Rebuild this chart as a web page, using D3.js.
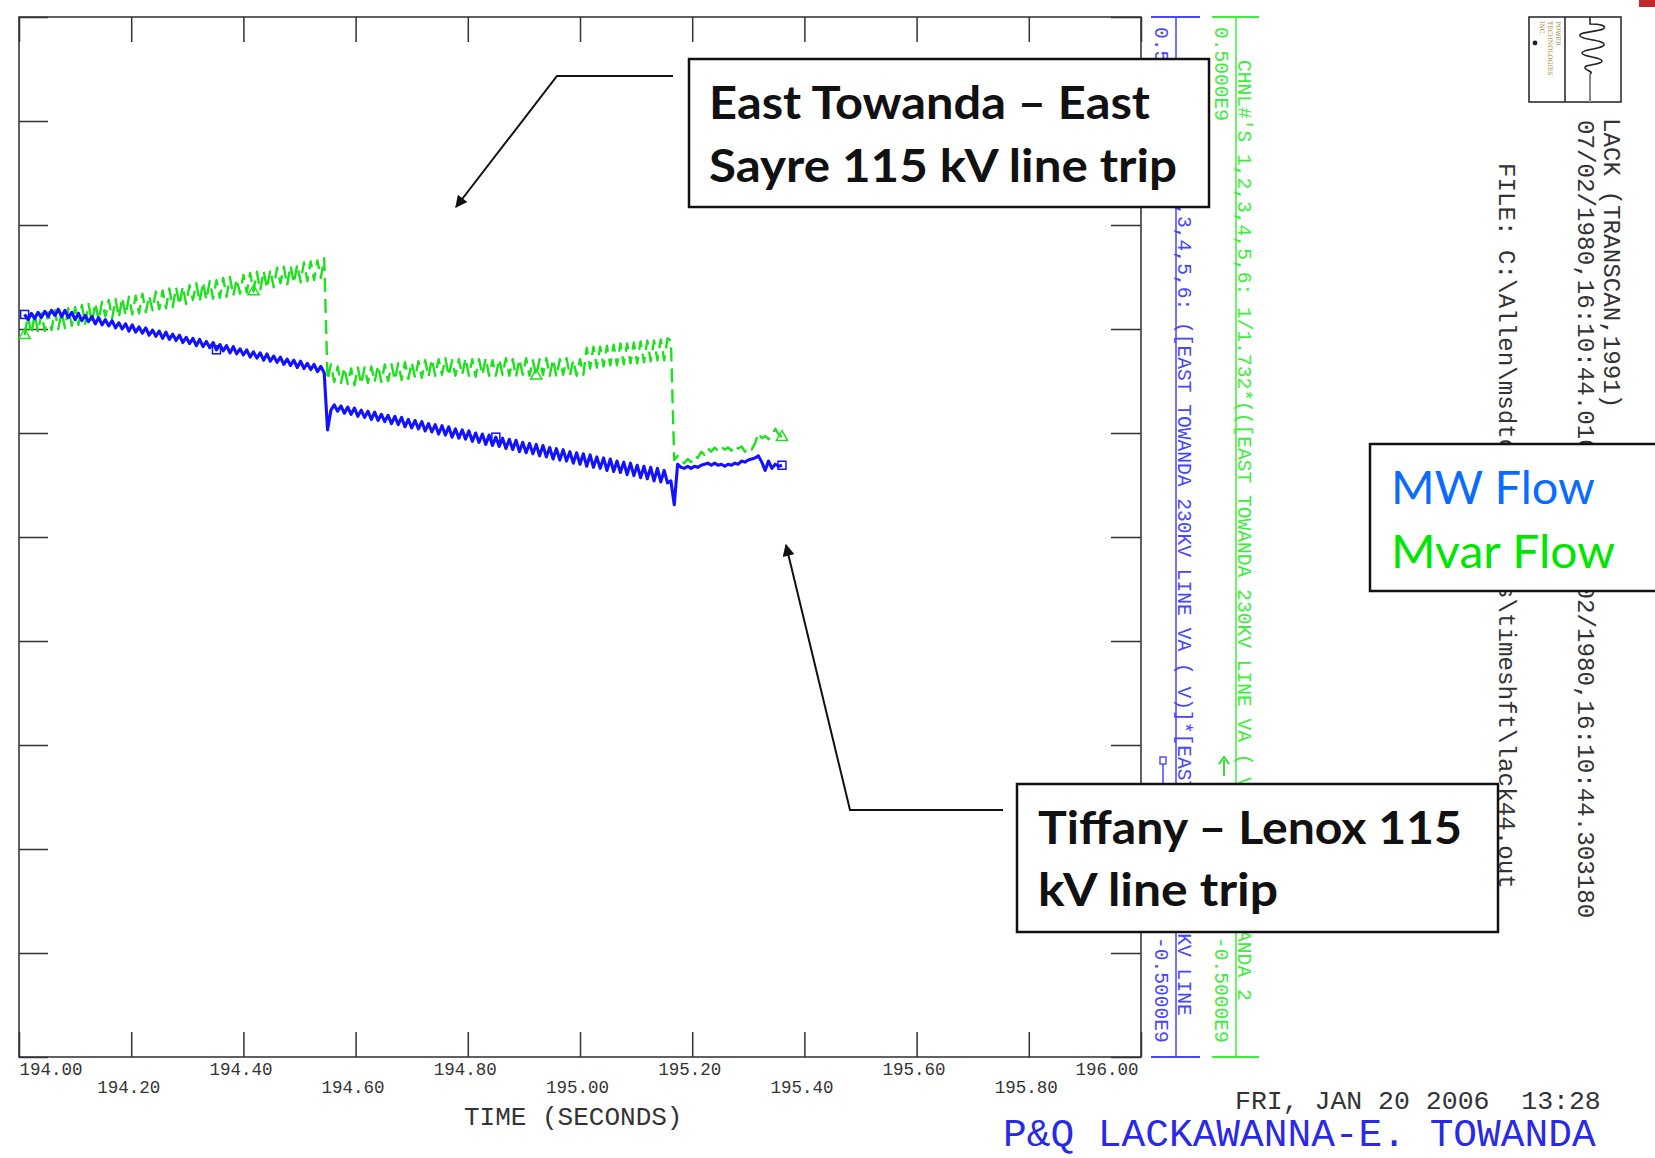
<!DOCTYPE html>
<html>
<head>
<meta charset="utf-8">
<script src="https://cdn.jsdelivr.net/npm/d3@7"></script>
<style>
  html, body { margin: 0; padding: 0; background: #fff; overflow: hidden; }
  svg { display: block; }
  .mono { font-family: "Courier New", "Liberation Mono", monospace; }
  .callout { font-family: Lato, "Open Sans", sans-serif; }
</style>
</head>
<body>
<svg id="chart" width="1655" height="1158"></svg>
<script>
// Recorder time base (seconds)
const sampleStart = 194.010;
const sampleInterval = 0.006;

// Channel values in units of 1e6 (axis spans -0.5E9 .. 0.5E9)
const mwFlow = [
  214,209,215,210,216,211,217,212,218,213,
  219,212,218,211,216,209,215,208,213,207,
  212,205,211,204,209,203,208,201,206,200,
  205,198,204,197,202,196,201,194,199,193,
  198,191,197,190,195,189,194,187,192,186,
  191,184,190,183,188,182,187,180,185,179,
  184,177,183,176,181,175,180,173,178,172,
  177,170,176,169,174,168,173,166,171,165,
  170,163,169,162,167,161,166,159,164,158,
  103,122,127,121,126,119,125,118,124,116,
  122,115,121,113,120,112,118,111,117,109,
  116,108,115,106,113,105,112,104,111,102,
  109,101,108,99,107,98,106,96,104,95,
  103,94,102,92,100,91,99,89,98,88,
  96,87,95,85,94,84,93,82,91,81,
  90,80,89,78,88,77,86,75,85,74,
  84,73,82,71,81,70,80,68,79,67,
  77,66,76,64,75,63,73,62,72,60,
  71,59,69,57,68,56,67,54,66,53,
  64,52,54,
  31,70,67,66,68,66,68,
  67,69,70,71,69,71,69,70,68,70,
  69,71,70,73,72,74,75,76,78,72,
  64,73,66,70,68,69
];

const mvarFlow = [
  194,213,195,214,197,215,198,216,199,218,
  200,216,201,220,203,221,204,223,205,224,
  206,225,208,226,212,228,210,229,211,230,
  213,231,214,232,215,234,216,232,218,236,
  219,237,220,239,221,240,223,241,224,242,
  228,244,226,245,228,246,229,247,230,249,
  231,250,232,248,234,252,235,254,236,255,
  237,256,239,257,240,259,244,260,242,261,
  244,262,245,264,246,265,247,266,249,268,
  151,166,149,164,148,163,147,162,146,163,
  147,163,148,164,149,165,149,166,150,166,
  151,167,151,168,152,168,153,169,153,170,
  154,171,155,171,156,172,155,170,155,171,
  156,172,155,171,154,171,156,172,155,170,
  155,171,156,172,155,171,154,171,156,172,
  155,170,155,171,156,172,155,171,154,171,
  156,172,155,170,155,171,156,
  182,162,183,163,183,164,184,165,185,165,
  186,166,186,167,187,167,188,168,189,169,
  189,170,190,170,191,189,
  74,78,73,71,75,72,78,
  76,82,79,85,82,86,83,87,84,86,
  83,88,85,87,82,86,84,90,100,95,
  97,94,98,104,99,96
];

// Sample indices that carry a channel symbol
const mwMarkerIdx = [0, 57, 140, 225];
const mvarMarkerIdx = [0, 68, 152, 225];

const xTickValues = [194.0, 194.2, 194.4, 194.6, 194.8, 195.0, 195.2, 195.4, 195.6, 195.8, 196.0];
const xTickLabels = ["194.00","194.20","194.40","194.60","194.80","195.00","195.20","195.40","195.60","195.80","196.00"];
const yTickValues = [-500,-400,-300,-200,-100,0,100,200,300,400,500];

const axisTopLabel = "0.5000E9";
const axisBottomLabel = "-0.5000E9";
const mwChannelText = "CHNL#'S 1,2,3,4,5,6: ([EAST TOWANDA 230KV LINE VA ( V)]*[EAST TOWANDA 230KV LINE";
const mvarChannelText = "CHNL#'S 1,2,3,4,5,6: 1/1.732*(([EAST TOWANDA 230KV LINE VA ( V)]*[EAST TOWANDA 2";

const COLOR_MW = "#1212ff";
const COLOR_MVAR = "#1ee01e";

const svg = d3.select("#chart");
svg.append("rect").attr("width", 1655).attr("height", 1158).attr("fill", "#fff");

const plot = { left: 19, right: 1141, top: 17, bottom: 1057 };
const x = d3.scaleLinear().domain([194, 196]).range([plot.left, plot.right]);
const y = d3.scaleLinear().domain([-500, 500]).range([plot.bottom, plot.top]);
const tOf = i => sampleStart + i * sampleInterval;

// ---- frame and inward ticks ----
const frame = svg.append("g");
frame.append("rect")
  .attr("x", plot.left).attr("y", plot.top)
  .attr("width", plot.right - plot.left).attr("height", plot.bottom - plot.top)
  .attr("fill", "none").attr("stroke", "#3a3a3a").attr("stroke-width", 1.6);

function styleAxis(g) {
  g.select(".domain").remove();
  g.selectAll(".tick line").attr("stroke", "#333").attr("stroke-width", 1.5);
}

frame.append("g").attr("transform", `translate(0,${plot.top})`)
  .call(d3.axisTop(x).tickValues(xTickValues).tickSize(-25).tickFormat(""))
  .call(styleAxis);

const bottomAxis = frame.append("g").attr("transform", `translate(0,${plot.bottom})`)
  .call(d3.axisBottom(x).tickValues(xTickValues).tickSize(-25)
        .tickFormat((d, i) => xTickLabels[i]))
  .call(styleAxis);
bottomAxis.selectAll(".tick text")
  .attr("class", "mono")
  .attr("font-size", 17.5)
  .attr("fill", "#333")
  .attr("dy", null)
  .attr("y", (d, i) => (i % 2 ? 36 : 18))
  .attr("x", (d, i) => (i === 0 ? 0 : -3))
  .attr("text-anchor", (d, i) => (i === 0 ? "start" : i === xTickValues.length - 1 ? "end" : "middle"));

frame.append("g").attr("transform", `translate(${plot.left},0)`)
  .call(d3.axisLeft(y).tickValues(yTickValues).tickSize(-29).tickFormat(""))
  .call(styleAxis);
frame.append("g").attr("transform", `translate(${plot.right},0)`)
  .call(d3.axisRight(y).tickValues(yTickValues).tickSize(-30).tickFormat(""))
  .call(styleAxis);

svg.append("text").attr("class", "mono")
  .attr("x", 464).attr("y", 1125).attr("font-size", 26).attr("fill", "#333")
  .text("TIME (SECONDS)");

// ---- traces ----
const line = d3.line().x((d, i) => x(tOf(i))).y(d => y(d));

svg.append("path").datum(mvarFlow)
  .attr("d", line).attr("fill", "none")
  .attr("stroke", COLOR_MVAR).attr("stroke-width", 2.4)
  .attr("stroke-dasharray", "14,7").attr("stroke-linejoin", "round");

svg.append("path").datum(mwFlow)
  .attr("d", line).attr("fill", "none")
  .attr("stroke", COLOR_MW).attr("stroke-width", 3.1)
  .attr("stroke-linejoin", "round");

svg.append("g").selectAll("rect").data(mwMarkerIdx).join("rect")
  .attr("x", i => x(tOf(i)) - 4).attr("y", i => y(mwFlow[i]) - 4)
  .attr("width", 8).attr("height", 8)
  .attr("fill", "none").attr("stroke", COLOR_MW).attr("stroke-width", 1.5);

const tri = d3.symbol().type(d3.symbolTriangle).size(55);
svg.append("g").selectAll("path").data(mvarMarkerIdx).join("path")
  .attr("transform", i => `translate(${x(tOf(i))},${y(mvarFlow[i])})`)
  .attr("d", tri).attr("fill", "none").attr("stroke", COLOR_MVAR).attr("stroke-width", 1.5);

// ---- channel scales at the right of the frame ----
function channelAxis(ax, capL, capR, color, labelX, chanX, chanY, chanText) {
  const g = svg.append("g");
  g.append("line").attr("x1", ax).attr("x2", ax).attr("y1", y(500)).attr("y2", y(-500))
    .attr("stroke", color).attr("stroke-width", 1.5);
  [500, -500].forEach(v => g.append("line")
    .attr("x1", capL).attr("x2", capR).attr("y1", y(v)).attr("y2", y(v))
    .attr("stroke", color).attr("stroke-width", 1.8));
  const rot = (tx, ty, s) => g.append("text").attr("class", "mono")
    .attr("transform", `translate(${tx},${ty}) rotate(90)`)
    .attr("font-size", 19.6).attr("fill", color).text(s);
  rot(labelX, 27, axisTopLabel);
  rot(labelX, 937, axisBottomLabel);
  rot(chanX, chanY, chanText);
  return g;
}
const mwAxis = channelAxis(1176, 1151, 1200, "#4646ff", 1155, 1178, 75, mwChannelText);
const mvarAxis = channelAxis(1236, 1212, 1259, "#3cee3c", 1215, 1238, 60, mvarChannelText);

// channel keys next to the scales
mwAxis.append("line").attr("x1", 1163).attr("x2", 1163).attr("y1", 764).attr("y2", 800)
  .attr("stroke", "#4646ff").attr("stroke-width", 1.5);
mwAxis.append("rect").attr("x", 1160).attr("y", 757).attr("width", 6).attr("height", 7)
  .attr("fill", "none").attr("stroke", "#4646ff").attr("stroke-width", 1.4);
mvarAxis.append("line").attr("x1", 1224).attr("x2", 1224).attr("y1", 776).attr("y2", 760)
  .attr("stroke", "#22dd22").attr("stroke-width", 1.8);
mvarAxis.append("path").attr("d", "M1219,764 L1224,757 L1229,764")
  .attr("fill", "none").attr("stroke", "#22dd22").attr("stroke-width", 1.8);

// ---- header block at the far right ----
const info = svg.append("g").attr("class", "mono").attr("fill", "#333").attr("font-size", 24.2);
[[1604, 118, "LACK (TRANSCAN,1991)"],
 [1578, 120, "07/02/1980,16:10:44.010000 - 07/02/1980,16:10:44.303180"],
 [1499, 163, "FILE: C:\\Allen\\msdtools\\events\\timeshft\\lack44.out"]]
  .forEach(([tx, ty, s]) => info.append("text")
    .attr("transform", `translate(${tx},${ty}) rotate(90)`).text(s));

// logo
const logo = svg.append("g");
logo.append("rect").attr("x", 1529).attr("y", 17).attr("width", 92).attr("height", 85)
  .attr("fill", "#fff").attr("stroke", "#222").attr("stroke-width", 1.5);
logo.append("line").attr("x1", 1565).attr("x2", 1565).attr("y1", 17).attr("y2", 102)
  .attr("stroke", "#222").attr("stroke-width", 1.5);
logo.append("path")
  .attr("d", "M1590,17 V24 C1600,24 1608,26 1603,29 C1596,32 1578,32 1580,36 C1582,40 1605,40 1604,45 C1603,49 1582,49 1582,53 C1582,57 1602,57 1602,61 C1602,65 1584,64 1585,68 C1586,71 1594,71 1590,74")
  .attr("fill", "none").attr("stroke", "#222").attr("stroke-width", 1.6);
logo.append("line").attr("x1", 1590).attr("x2", 1590).attr("y1", 74).attr("y2", 102)
  .attr("stroke", "#888").attr("stroke-width", 2);
[[1556, "POWER"], [1548, "TECHNOLOGIES"], [1540, "INC."]].forEach(([tx, s]) =>
  logo.append("text").attr("transform", `translate(${tx},21) rotate(90)`)
    .attr("font-family", "DejaVu Serif, serif").attr("font-size", 6.2)
    .attr("fill", "#a8843a").text(s));
logo.append("circle").attr("cx", 1535).attr("cy", 43).attr("r", 2.4).attr("fill", "#222");

svg.append("rect").attr("x", 1639).attr("y", 0).attr("width", 16).attr("height", 7).attr("fill", "#c1272d");

// ---- footer ----
svg.append("text").attr("class", "mono").attr("x", 1235).attr("y", 1109)
  .attr("font-size", 26.5).attr("fill", "#333").style("white-space", "pre")
  .text("FRI, JAN 20 2006  13:28");
svg.append("text").attr("class", "mono").attr("x", 1003).attr("y", 1146)
  .attr("font-size", 39.5).attr("fill", "#2a2ae6")
  .text("P&Q LACKAWANNA-E. TOWANDA");

// ---- callouts ----
const defs = svg.append("defs");
defs.append("marker").attr("id", "head").attr("viewBox", "0 0 10 10")
  .attr("refX", 9).attr("refY", 5).attr("markerWidth", 14).attr("markerHeight", 12)
  .attr("markerUnits", "userSpaceOnUse").attr("orient", "auto")
  .append("path").attr("d", "M0,0 L10,5 L0,10 Z").attr("fill", "#111");

const notes = svg.append("g");
notes.append("path").attr("d", "M673,76 H557 L456,207")
  .attr("fill", "none").attr("stroke", "#111").attr("stroke-width", 2).attr("marker-end", "url(#head)");
notes.append("path").attr("d", "M1003,810 H850 L786,545")
  .attr("fill", "none").attr("stroke", "#111").attr("stroke-width", 2).attr("marker-end", "url(#head)");

function box(bx, by, bw, bh) {
  notes.append("rect").attr("x", bx).attr("y", by).attr("width", bw).attr("height", bh)
    .attr("fill", "#fff").attr("stroke", "#111").attr("stroke-width", 2.5);
}
function note(tx, ty, s, len, size, weight, color) {
  notes.append("text").attr("class", "callout")
    .attr("x", tx).attr("y", ty).attr("font-size", size).attr("font-weight", weight)
    .attr("fill", color).attr("textLength", len).attr("lengthAdjust", "spacingAndGlyphs")
    .text(s);
}
box(689, 59, 520, 148);
note(709, 119, "East Towanda \u2013 East", 441, 45, 700, "#111");
note(709, 182, "Sayre 115 kV line trip", 468, 45, 700, "#111");

box(1017, 784, 481, 148);
note(1038, 844, "Tiffany \u2013 Lenox 115", 424, 45, 700, "#111");
note(1038, 906, "kV line trip", 240, 45, 700, "#111");

box(1370, 444, 330, 147);
note(1391, 504, "MW Flow", 204, 47, 400, "#0a6cff");
note(1391, 568, "Mvar Flow", 224, 47, 400, "#00e600");
</script>
</body>
</html>
